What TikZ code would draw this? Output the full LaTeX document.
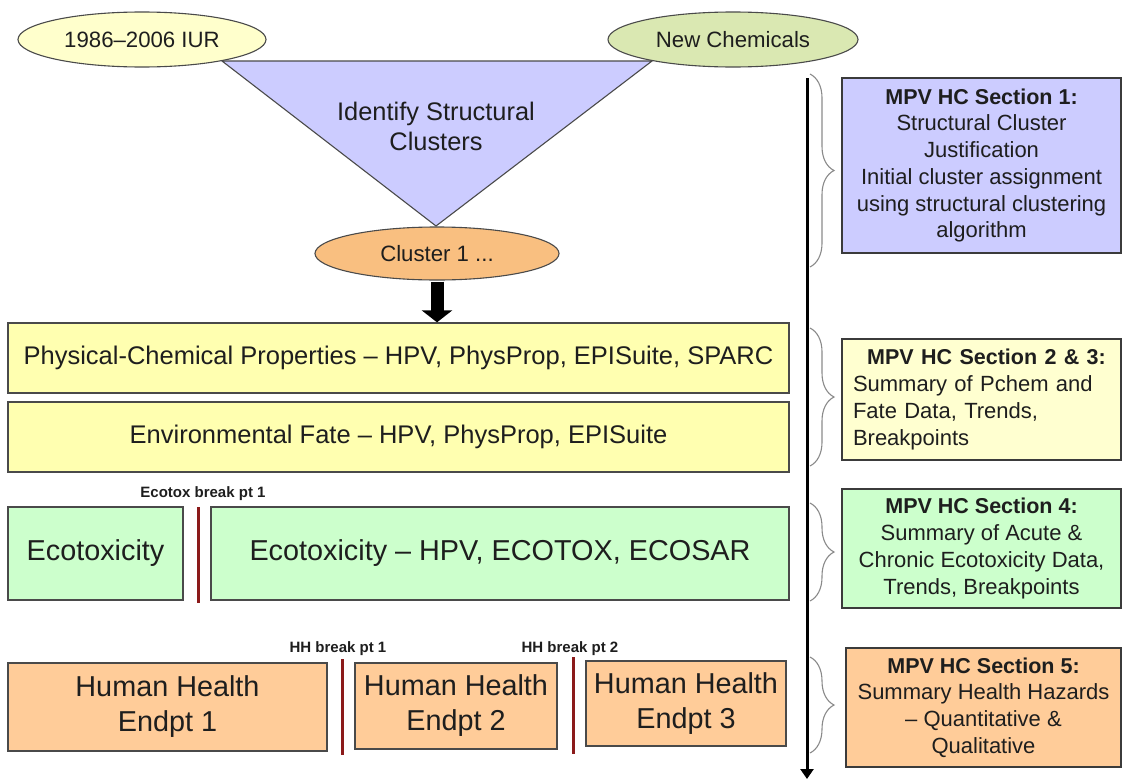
\documentclass[tikz,border=0pt]{standalone}
\usepackage{fontspec}
\setmainfont{Liberation Sans}
\usetikzlibrary{arrows.meta,decorations.pathreplacing,shapes.geometric}
\definecolor{bd}{HTML}{4A4A4A}
\definecolor{txt}{HTML}{1E1E1E}
\definecolor{iurfill}{HTML}{FFFFCC}
\definecolor{chemfill}{HTML}{DAE8B2}
\definecolor{trifill}{HTML}{CCCCFF}
\definecolor{clfill}{HTML}{F9BF80}
\definecolor{ylwfill}{HTML}{FFFFB0}
\definecolor{ylwlight}{HTML}{FFFFD0}
\definecolor{grnfill}{HTML}{CCFFCC}
\definecolor{orgfill}{HTML}{FFCC99}
\definecolor{breakred}{HTML}{8B1A1A}
\definecolor{bracegray}{HTML}{8A8A8A}
\tikzset{
  box/.style={draw=bd, line width=1.3pt, inner sep=0pt, text=txt, align=center},
  oval/.style={ellipse, draw=bd, line width=1.1pt, inner sep=0pt, text=txt,
    font=\fontsize{22.2}{26}\selectfont},
  mainbox/.style={box, fill=ylwfill, minimum width=781pt, minimum height=70pt,
    font=\fontsize{25.5}{30}\selectfont},
  bigbox/.style={box, font=\fontsize{28.8}{35}\selectfont},
  sidebox/.style={box, draw=bd!80!black, font=\fontsize{22}{26.7}\selectfont},
  brklabel/.style={text=txt, inner sep=0pt, font=\fontsize{15}{17}\selectfont\bfseries},
  brkline/.style={draw=breakred, line width=3pt},
  bracestyle/.style={draw=bracegray, line width=1.1pt, decorate,
    decoration={brace, amplitude=24pt}},
}
\begin{document}
\begin{tikzpicture}[x=1pt,y=-1pt]
\useasboundingbox (0,0) rectangle (1123,779);

% triangle
\coordinate (tA) at (222,61);
\coordinate (tB) at (652,61);
\coordinate (tC) at (436,226);
\draw[fill=trifill, draw=bd, line width=1.1pt, line join=miter] (tA) -- (tB) -- (tC) -- cycle;
\node[text=txt, align=center, font=\fontsize{25.4}{30}\selectfont] (ident) at (436,126)
  {Identify Structural\\Clusters};

% ellipses
\node[oval, fill=iurfill, minimum width=248pt, minimum height=55pt] (iur) at (142,39.5) {1986--2006 IUR};
\node[oval, fill=chemfill, minimum width=250pt, minimum height=55pt] (chem) at (733,39.5) {New Chemicals};
\node[oval, fill=clfill, minimum width=244pt, minimum height=53pt] (cl) at (437,253.5) {Cluster 1 ...};

% main boxes
\node[mainbox] (pc) at (398.5,358) {\raisebox{-2pt}{Physical-Chemical Properties -- HPV, PhysProp, EPISuite, SPARC}};
\node[mainbox] (ef) at (398.5,437) {\raisebox{-2pt}{Environmental Fate -- HPV, PhysProp, EPISuite}};

\draw[line width=13pt, -{Triangle[width=30pt,length=12pt]}] ([yshift=-1pt]cl.south) -- (cl.south |- pc.north);

% ecotox
\node[bigbox, fill=grnfill, minimum width=175pt, minimum height=93pt] (eco1) at (95.5,553.5) {\raisebox{-3pt}{Ecotoxicity}};
\node[bigbox, fill=grnfill, minimum width=578pt, minimum height=93pt] (eco2) at (500,553.5) {\raisebox{-3pt}{Ecotoxicity -- HPV, ECOTOX, ECOSAR}};
\node[brklabel] (ecobrk) at (203,494) {Ecotox break pt 1};
\draw[brkline] (198,507) -- (198,603);

% human health
\node[bigbox, fill=orgfill, minimum width=319pt, minimum height=88pt] (hh1) at (167.5,707) {Human Health\\Endpt 1};
\node[bigbox, fill=orgfill, minimum width=202pt, minimum height=86pt] (hh2) at (456,706) {Human Health\\Endpt 2};
\node[bigbox, fill=orgfill, minimum width=200pt, minimum height=85pt] (hh3) at (686,703.5) {Human Health\\Endpt 3};
\node[brklabel] (hhbrk1) at (338,649) {HH break pt 1};
\node[brklabel] (hhbrk2) at (570,649) {HH break pt 2};
\draw[brkline] (342,659) -- (342,755);
\draw[brkline] (573,657) -- (573,754);

% timeline arrow
\coordinate (tl0) at (807,78);
\coordinate (tl1) at (807,779);
\draw[line width=3pt, -{Triangle[width=13pt,length=10pt]}] (tl0) -- (tl1);

% braces
\draw[bracestyle] (810,74) -- (810,267);
\draw[bracestyle] (810,328) -- (810,466);
\draw[bracestyle] (810,503) -- (810,601);
\draw[bracestyle] (810,657) -- (810,753);

% side boxes
\node[sidebox, fill=trifill, minimum width=279pt, minimum height=175pt] (s1) at (981.5,165.5)
  {\textbf{\fontsize{21.5}{26.7}\selectfont MPV HC Section 1:}\\Structural Cluster\\Justification\\Initial cluster assignment\\using structural clustering\\algorithm};
\node[sidebox, fill=ylwlight, minimum width=279pt, minimum height=121pt, text width=257pt, align=left] (s23) at (981.5,399.5)
  {\makebox[\linewidth][c]{\hspace{10pt}\bfseries\fontsize{21.5}{26.7}\selectfont MPV HC Section 2 \& 3:}\\Summary of Pchem and\\Fate Data, Trends,\\Breakpoints};
\node[sidebox, fill=grnfill, minimum width=279pt, minimum height=119pt] (s4) at (981.5,548.5)
  {\textbf{\fontsize{21.5}{26.7}\selectfont MPV HC Section 4:}\\Summary of Acute \&\\Chronic Ecotoxicity Data,\\Trends, Breakpoints};
\node[sidebox, fill=orgfill, minimum width=275pt, minimum height=119pt] (s5) at (983.5,707.5)
  {\textbf{\fontsize{21.5}{26.7}\selectfont MPV HC Section 5:}\\Summary Health Hazards\\-- Quantitative \&\\Qualitative};
\end{tikzpicture}
\end{document}
